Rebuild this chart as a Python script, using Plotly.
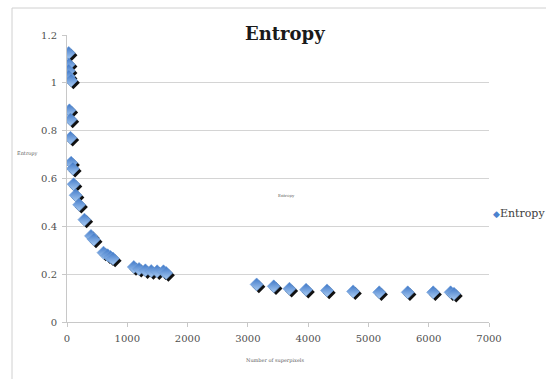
import plotly.graph_objects as go

# Entropy measured against the number of superpixels
superpixels = [29, 29, 29, 29, 69, 40, 58, 58, 69, 98, 110, 144, 202, 289, 398, 445,
               606, 675, 722, 762, 1108, 1195, 1300, 1397, 1495, 1600, 1645,
               3146, 3430, 3690, 3966, 4313, 4746, 5179, 5652, 6074, 6363, 6420]
entropy = [1.125, 1.077, 1.05, 1.027, 1.01, 0.885, 0.847, 0.77, 0.666, 0.641, 0.576,
           0.53, 0.49, 0.428, 0.36, 0.345, 0.29, 0.279, 0.272, 0.265,
           0.23, 0.222, 0.216, 0.213, 0.212, 0.212, 0.205,
           0.157, 0.149, 0.139, 0.135, 0.132, 0.128, 0.124, 0.124, 0.124, 0.124, 0.118]

x_ticks = [0, 1000, 2000, 3000, 4000, 5000, 6000, 7000]
y_ticks = [0, 0.2, 0.4, 0.6, 0.8, 1.0, 1.2]
y_tick_text = ["0", "0.2", "0.4", "0.6", "0.8", "1", "1.2"]

W, H = 546, 379
M_L, M_R, M_T, M_B = 67, 57, 35, 57
X_RANGE = [0, 7000]
Y_RANGE = [0, 1.2]
plot_w = W - M_L - M_R
plot_h = H - M_T - M_B

# drop shadow a few pixels down-right of every marker
SHADOW_PX = 2.2
dx = SHADOW_PX * (X_RANGE[1] - X_RANGE[0]) / plot_w
dy = SHADOW_PX * (Y_RANGE[1] - Y_RANGE[0]) / plot_h

serif = "DejaVu Serif, Liberation Serif, serif"
BLUE = "#4a82cf"

def px_x(px):
    return (px - M_L) / plot_w

def px_y(py):
    return 1 - (py - M_T) / plot_h

fig = go.Figure()
fig.add_trace(go.Scatter(
    x=[v + dx for v in superpixels], y=[v - dy for v in entropy],
    mode="markers", showlegend=False, hoverinfo="skip",
    marker=dict(symbol="diamond", size=10, color="#111111",
                line=dict(width=0)),
))
fig.add_trace(go.Scatter(
    x=superpixels, y=entropy, mode="markers", name="Entropy",
    showlegend=False,
    marker=dict(symbol="diamond", size=10, color="#3f78c8",
                gradient=dict(type="vertical", color="#a9cbf2"),
                line=dict(width=0.6, color="#6a9ad8")),
))

tick_font = dict(family=serif, size=10, color="#505050")

fig.update_layout(
    width=W, height=H,
    margin=dict(l=M_L, r=M_R, t=M_T, b=M_B, autoexpand=False),
    paper_bgcolor="white", plot_bgcolor="white",
    showlegend=False,
    xaxis=dict(range=X_RANGE, tickvals=x_ticks, showgrid=False, zeroline=False,
               showline=True, linecolor="#c8c8c8", linewidth=1,
               ticks="outside", ticklen=4, tickcolor="#c8c8c8",
               ticklabelstandoff=3, tickfont=tick_font),
    yaxis=dict(range=Y_RANGE, tickvals=y_ticks, ticktext=y_tick_text,
               showgrid=True, gridcolor="#d4d4d4", gridwidth=1, zeroline=False,
               showline=True, linecolor="#c8c8c8", linewidth=1,
               ticks="outside", ticklen=4, tickcolor="#c8c8c8",
               ticklabelstandoff=3, tickfont=tick_font),
    shapes=[dict(type="rect", xref="paper", yref="paper",
                 x0=px_x(12), x1=px_x(W + 20),
                 y0=px_y(H + 20), y1=px_y(8),
                 line=dict(color="#d0d0d0", width=1), layer="below")],
    annotations=[
        dict(text="<b>Entropy</b>", xref="paper", yref="paper",
             x=px_x(285), y=px_y(33),
             xanchor="center", yanchor="middle", showarrow=False,
             bgcolor="white", borderpad=3,
             font=dict(family=serif, size=18, color="#1a1a1a")),
        dict(text="Entropy", xref="paper", yref="paper",
             x=px_x(27), y=px_y(153),
             xanchor="center", yanchor="middle", showarrow=False,
             font=dict(family=serif, size=5, color="#606060")),
        dict(text="Number of superpixels", xref="paper", yref="paper",
             x=px_x(275), y=px_y(360),
             xanchor="center", yanchor="middle", showarrow=False,
             font=dict(family=serif, size=5, color="#606060")),
        dict(text="Entropy", xref="paper", yref="paper",
             x=px_x(286), y=px_y(195),
             xanchor="center", yanchor="middle", showarrow=False,
             font=dict(family=serif, size=4, color="#606060")),
        # series key on the right
        dict(text=f"<span style='color:{BLUE};font-size:9px'>◆</span>Entropy",
             xref="paper", yref="paper",
             x=px_x(491), y=px_y(213),
             xanchor="left", yanchor="middle", showarrow=False,
             font=dict(family=serif, size=11, color="#404040")),
    ],
)

fig.write_html("out.html")
